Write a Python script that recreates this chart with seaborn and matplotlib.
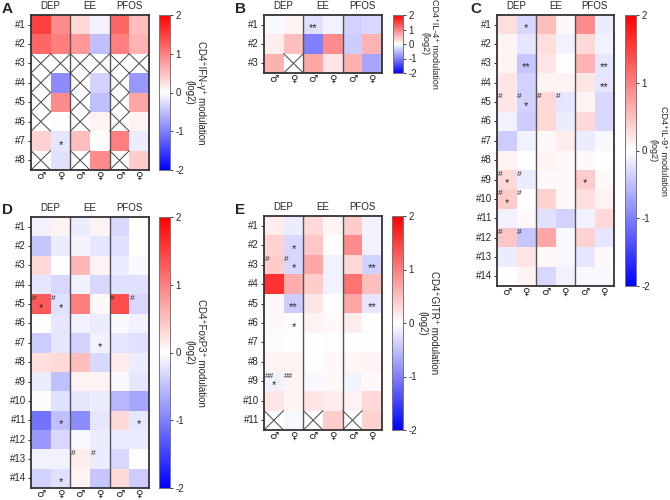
import numpy as np
import matplotlib
matplotlib.use('Agg')
import matplotlib.pyplot as plt
import seaborn as sns

nan = np.nan

groups = ['DEP', 'EE', 'PFOS']
sexes = ['♂', '♀', '♂', '♀', '♂', '♀']

# columns: DEP m, DEP f, EE m, EE f, PFOS m, PFOS f  (log2 modulation)
ifng_vals = [
    [1.5, 0.9, 0.3, -0.1, 1.2, 0.5],
    [1.2, 1.0, 0.8, -0.5, 1.0, 0.6],
    [nan, nan, nan, nan, nan, nan],
    [nan, -0.9, nan, -0.35, nan, -0.8],
    [nan, 0.9, nan, -0.5, nan, 0.7],
    [nan, 0.0, nan, 0.08, nan, 0.1],
    [0.35, -0.2, 0.5, 0.03, 1.0, -0.15],
    [nan, -0.25, nan, 0.9, nan, 0.4],
]
ifng_stars = [(6, 1, '*')]
ifng_hashes = []

il4_vals = [
    [-0.05, 0.1, -0.25, -0.1, -0.35, -0.3],
    [0.15, 0.5, -1.0, 0.9, -0.4, 0.6],
    [0.6, nan, 0.7, 0.2, 0.6, -0.7],
]
il4_stars = [(0, 2, '**')]
il4_hashes = []

il9_vals = [
    [0.25, -0.3, 0.5, 0.05, 0.9, -0.15],
    [0.08, -0.2, 0.25, -0.1, 0.3, -0.1],
    [0.08, -0.45, 0.2, 0.0, 0.6, -0.2],
    [0.2, -0.35, 0.1, 0.1, 0.2, -0.2],
    [0.2, -0.35, 0.3, -0.2, 0.1, -0.3],
    [-0.1, -0.4, 0.3, -0.15, 0.3, -0.3],
    [-0.4, -0.1, 0.05, 0.15, -0.15, -0.05],
    [0.1, 0.0, 0.1, 0.05, 0.05, 0.0],
    [0.3, -0.15, 0.05, 0.05, 0.4, 0.05],
    [0.4, 0.0, 0.35, 0.05, 0.25, 0.1],
    [-0.1, 0.05, -0.25, -0.35, -0.1, 0.3],
    [0.45, -0.45, 0.7, -0.05, 0.35, -0.2],
    [-0.15, 0.2, 0.05, -0.05, -0.2, 0.05],
    [0.0, 0.08, -0.3, -0.1, -0.05, -0.05],
]
il9_stars = [(0, 1, '*'), (2, 1, '**'), (2, 5, '**'), (3, 5, '**'), (4, 1, '*'),
             (8, 0, '*'), (8, 4, '*'), (9, 0, '*')]
il9_hashes = [(4, 0, '#'), (4, 1, '#'), (4, 2, '#'), (4, 3, '#'), (8, 0, '#'),
              (8, 1, '#'), (9, 0, '#'), (9, 1, '#'), (11, 0, '#'), (11, 1, '#')]

foxp3_vals = [
    [-0.1, 0.1, -0.15, 0.08, -0.3, 0.03],
    [-0.45, -0.15, -0.08, -0.2, -0.25, 0.0],
    [0.3, 0.0, 0.55, 0.1, -0.15, -0.05],
    [-0.2, -0.3, -0.1, -0.3, -0.25, -0.25],
    [1.3, -0.25, 1.0, 0.05, 1.4, -0.3],
    [0.0, -0.2, -0.1, -0.15, -0.05, -0.1],
    [-0.4, -0.2, -0.35, -0.1, -0.2, -0.25],
    [0.25, 0.3, 0.5, -0.3, 0.15, -0.15],
    [-0.15, -0.5, 0.1, 0.1, -0.05, -0.2],
    [-0.02, -0.25, -0.2, -0.15, -0.55, -0.7],
    [-1.1, -0.5, -0.9, -0.2, 0.3, -0.2],
    [-0.8, -0.3, -0.05, -0.15, -0.15, -0.15],
    [-0.1, -0.1, 0.15, -0.15, -0.3, 0.0],
    [-0.35, -0.25, 0.1, -0.45, 0.3, -0.4],
]
foxp3_stars = [(4, 0, '*'), (4, 1, '*'), (6, 3, '*'), (10, 1, '*'), (10, 5, '*'), (13, 1, '*')]
foxp3_hashes = [(4, 0, '#'), (4, 1, '#'), (4, 4, '#'), (4, 5, '#'), (12, 2, '#'), (12, 3, '#')]

gitr_vals = [
    [0.15, -0.15, 0.3, 0.08, 0.4, -0.1],
    [0.35, -0.3, 0.45, 0.03, 0.9, -0.1],
    [0.4, -0.3, 0.7, -0.1, 0.3, -0.35],
    [1.6, 0.65, 0.4, -0.1, 1.1, 0.5],
    [0.05, -0.4, 0.2, 0.0, 0.7, -0.2],
    [0.05, -0.03, 0.1, 0.05, 0.15, 0.0],
    [-0.03, 0.0, 0.0, 0.02, 0.0, 0.0],
    [0.1, 0.1, 0.0, 0.05, 0.07, 0.1],
    [-0.1, 0.08, -0.05, 0.05, -0.08, 0.05],
    [0.2, 0.08, 0.2, 0.15, 0.1, 0.3],
    [nan, -0.05, nan, 0.4, nan, 0.35],
]
gitr_stars = [(1, 1, '*'), (2, 1, '*'), (2, 5, '**'), (4, 1, '**'), (4, 5, '**'),
              (5, 1, '*'), (8, 0, '*')]
gitr_hashes = [(2, 0, '#'), (2, 1, '#'), (8, 0, '##'), (8, 1, '##')]

sns.set_style('white')
plt.rcParams['font.family'] = ['Liberation Sans', 'DejaVu Sans']
plt.rcParams['axes.unicode_minus'] = False

W, H = 670, 500
fig = plt.figure(figsize=(6.7, 5.0), dpi=100)


def px_box(x0, y0, x1, y1):
    return [x0 / W, 1 - y1 / H, (x1 - x0) / W, (y1 - y0) / H]


def draw_panel(hm_px, cb_px, vals, stars, hashes, label, label_size=7, pad=16):
    ax = fig.add_axes(px_box(*hm_px))
    cax = fig.add_axes(px_box(*cb_px))
    data = np.array(vals, dtype=float)
    n = data.shape[0]
    rows = ['#%d' % (i + 1) for i in range(n)]
    sns.heatmap(data, ax=ax, cbar_ax=cax, cmap='bwr', vmin=-2, vmax=2,
                xticklabels=sexes, yticklabels=rows)
    # crossed (missing) cells
    for r, c in zip(*np.where(np.isnan(data))):
        ax.plot([c, c + 1], [r, r + 1], color='#444', lw=0.7)
        ax.plot([c, c + 1], [r + 1, r], color='#444', lw=0.7)
    for r, c, s in stars:
        ax.text(c + 0.5, r + 0.7, s, ha='center', va='center', fontsize=8)
    for r, c, s in hashes:
        ax.text(c + 0.04, r + 0.05, s, ha='left', va='top', fontsize=6)
    for x in (2, 4):
        ax.axvline(x, color='#555', lw=1)
    for sp in ax.spines.values():
        sp.set_visible(True)
        sp.set_color('#333')
        sp.set_linewidth(1.3)
    for i, g in enumerate(groups):
        ax.annotate(g, xy=(2 * i + 1, 0), xytext=(0, 3), textcoords='offset points',
                    ha='center', va='bottom', fontsize=7)
    ax.tick_params(axis='y', length=2.5, width=0.7, labelsize=7, rotation=0, pad=1, left=True)
    ax.tick_params(axis='x', length=0, rotation=0, pad=0.5)
    for t in ax.get_xticklabels():
        t.set_fontsize(7.5)
        t.set_family(['DejaVu Sans'])
        t.set_color('#222')

    cax.set_yticks([-2, -1, 0, 1, 2])
    cax.set_yticklabels(['-2', '-1', '0', '1', '2'])
    cax.tick_params(labelsize=7, length=2, width=0.6, pad=2, right=True)
    for sp in cax.spines.values():
        sp.set_visible(True)
        sp.set_color('#777')
        sp.set_linewidth(0.6)
    cax.set_ylabel(label + '\n(log2)', rotation=270, fontsize=label_size, labelpad=pad,
                   linespacing=1.2)
    return ax


draw_panel((31, 15, 149, 170), (159, 15, 170, 170), ifng_vals, ifng_stars, ifng_hashes,
           'CD4⁺IFN-γ⁺ modulation')
draw_panel((264, 15, 382, 73), (393, 15, 403, 73), il4_vals, il4_stars, il4_hashes,
           'CD4⁺IL-4⁺ modulation', label_size=6.5)
draw_panel((497, 15, 614, 286), (625, 15, 636, 286), il9_vals, il9_stars, il9_hashes,
           'CD4⁺IL-9⁺ modulation', label_size=6.5, pad=13)
draw_panel((31, 217, 149, 488), (159, 217, 170, 488), foxp3_vals, foxp3_stars, foxp3_hashes,
           'CD4⁺FoxP3⁺ modulation')
draw_panel((264, 216, 382, 430), (392, 216, 403, 430), gitr_vals, gitr_stars, gitr_hashes,
           'CD4⁺GITR⁺ modulation')

for letter, x, y in [('A', 2, 2), ('B', 235, 2), ('C', 470, 2), ('D', 2, 203), ('E', 235, 203)]:
    fig.text(x / W, 1 - y / H, letter, fontsize=11, fontweight='bold', ha='left', va='top')

fig.savefig('out.png', dpi=100)
